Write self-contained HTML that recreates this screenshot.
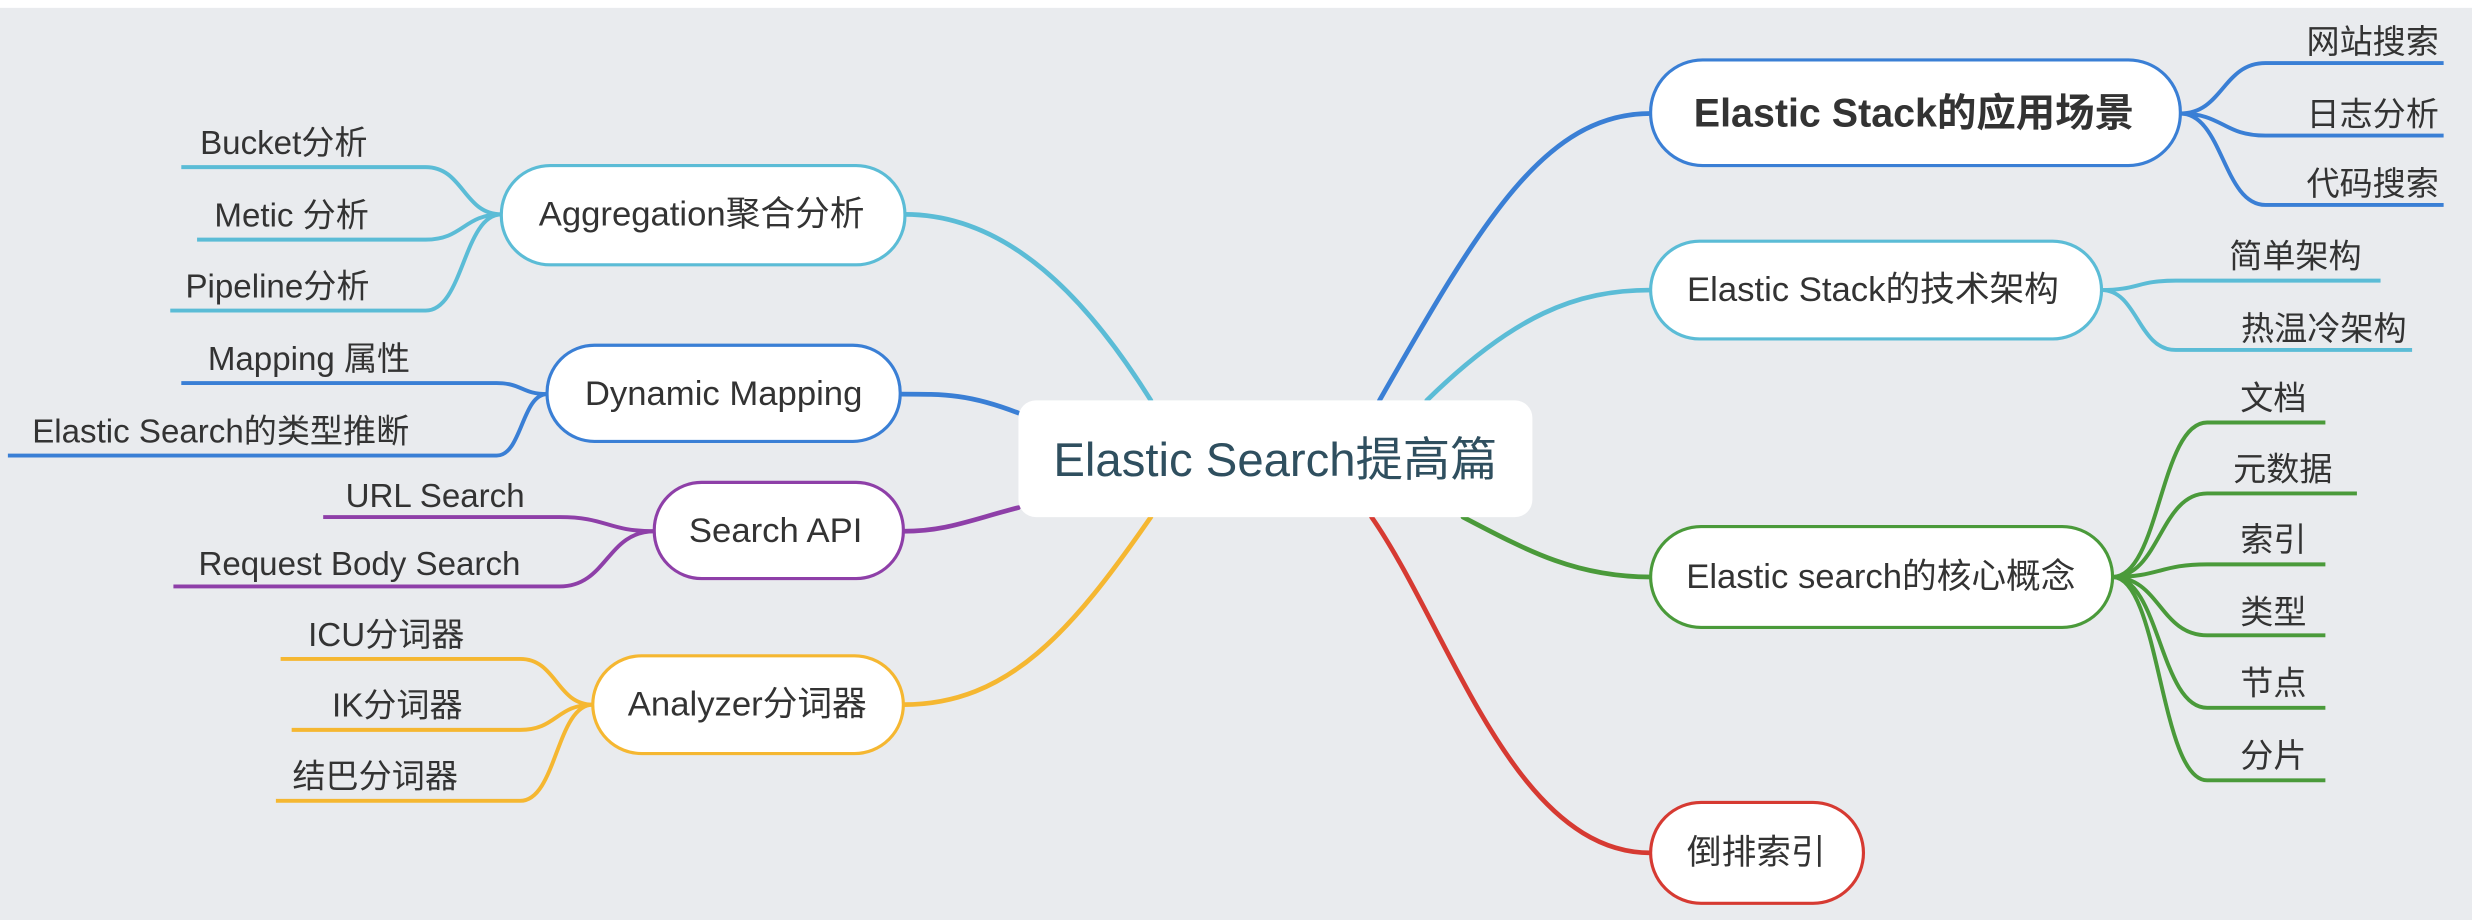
<!DOCTYPE html>
<html><head><meta charset="utf-8"><style>
html,body{margin:0;padding:0;background:#fff;}
svg{display:block;}
text{font-family:"Liberation Sans","Noto Sans CJK SC",sans-serif;fill:#333;dominant-baseline:central;}
</style></head><body>
<svg width="2472" height="920" viewBox="0 0 1568 583.6" preserveAspectRatio="none" xmlns="http://www.w3.org/2000/svg">
<rect x="0" y="5" width="1568" height="578.6" fill="#e9ebee"/>
<g fill="none" stroke-width="3" stroke-linecap="round">
<path d="M875 254 C940 140,980 72,1047 72" stroke="#3a7fd5"/>
<path d="M905 254 C960 200,1000 184,1047 184" stroke="#5bbcd6"/>
<path d="M928 328 C970 350,1000 366,1047 366" stroke="#4a9a3a"/>
<path d="M870 328 C920 400,960 541,1047 541" stroke="#d63a32"/>
<path d="M730 254 C690 190,640 136,574 136" stroke="#5bbcd6"/>
<path d="M646 262 C615 250,600 250,571 250" stroke="#3a7fd5"/>
<path d="M646 322 C615 330,600 337,573 337" stroke="#8e3fa8"/>
<path d="M730 328 C680 400,640 447,573 447" stroke="#f5b731"/>
</g>
<g fill="none" stroke-width="2.5">
<g stroke="#3a7fd5">
<path d="M1383 72 C1410 72,1410 40,1437 40 L1550 40"/>
<path d="M1383 72 C1410 72,1410 86,1437 86 L1550 86"/>
<path d="M1383 72 C1410 72,1410 130,1437 130 L1550 130"/>
<path d="M347 250 C331 250,331 243,315 243 L115 243"/>
<path d="M347 250 C331 250,331 289,315 289 L5 289"/>
</g>
<g stroke="#5bbcd6">
<path d="M1333 184 C1356 184,1356 178,1380 178 L1510 178"/>
<path d="M1333 184 C1356 184,1356 222,1380 222 L1530 222"/>
<path d="M318 136 C294 136,294 106,270 106 L115 106"/>
<path d="M318 136 C294 136,294 152,270 152 L125 152"/>
<path d="M318 136 C294 136,294 197,270 197 L108 197"/>
</g>
<g stroke="#4a9a3a">
<path d="M1340 366 C1370 366,1370 268,1400 268 L1475 268"/>
<path d="M1340 366 C1370 366,1370 313,1400 313 L1495 313"/>
<path d="M1340 366 C1370 366,1370 358,1400 358 L1475 358"/>
<path d="M1340 366 C1370 366,1370 403,1400 403 L1475 403"/>
<path d="M1340 366 C1370 366,1370 449,1400 449 L1475 449"/>
<path d="M1340 366 C1370 366,1370 495,1400 495 L1475 495"/>
</g>
<g stroke="#8e3fa8">
<path d="M415 337 C385 337,385 328,355 328 L205 328"/>
<path d="M415 337 C385 337,385 372,355 372 L110 372"/>
</g>
<g stroke="#f5b731">
<path d="M376 447 C353 447,353 418,330 418 L178 418"/>
<path d="M376 447 C353 447,353 463,330 463 L185 463"/>
<path d="M376 447 C353 447,353 508,330 508 L175 508"/>
</g>
</g>
<rect x="646" y="254" width="326" height="74" rx="11" fill="#fff"/>
<text x="809" y="292" font-size="30" text-anchor="middle" style="fill:#2f4f5f">Elastic Search提高篇</text>
<g fill="#fff" stroke-width="2">
<rect x="1047" y="38" width="336" height="67" rx="33" stroke="#3a7fd5"/>
<rect x="1047" y="153" width="286" height="62" rx="31" stroke="#5bbcd6"/>
<rect x="1047" y="334" width="293" height="64" rx="32" stroke="#4a9a3a"/>
<rect x="1047" y="509" width="135" height="64" rx="32" stroke="#d63a32"/>
<rect x="318" y="105" width="256" height="63" rx="31" stroke="#5bbcd6"/>
<rect x="347" y="219" width="224" height="61" rx="30" stroke="#3a7fd5"/>
<rect x="415" y="306" width="158" height="61" rx="30" stroke="#8e3fa8"/>
<rect x="376" y="416" width="197" height="62" rx="31" stroke="#f5b731"/>
</g>
<g text-anchor="middle" font-size="22">
<text x="1214" y="72" font-size="25" font-weight="bold">Elastic Stack的应用场景</text>
<text x="1188" y="184">Elastic Stack的技术架构</text>
<text x="1193" y="366">Elastic search的核心概念</text>
<text x="1114" y="541">倒排索引</text>
<text x="445" y="136">Aggregation聚合分析</text>
<text x="459" y="250">Dynamic Mapping</text>
<text x="492" y="337">Search API</text>
<text x="474" y="447">Analyzer分词器</text>
</g>
<g text-anchor="middle" font-size="21">
<text x="1505" y="27">网站搜索</text>
<text x="1505" y="73">日志分析</text>
<text x="1505" y="117">代码搜索</text>
<text x="1456" y="163">简单架构</text>
<text x="1474" y="209">热温冷架构</text>
<text x="1442" y="253">文档</text>
<text x="1448" y="298">元数据</text>
<text x="1442" y="343">索引</text>
<text x="1442" y="389">类型</text>
<text x="1442" y="434">节点</text>
<text x="1442" y="480">分片</text>
<text x="180" y="91">Bucket分析</text>
<text x="185" y="137">Metic 分析</text>
<text x="176" y="182">Pipeline分析</text>
<text x="196" y="228">Mapping 属性</text>
<text x="140" y="274">Elastic Search的类型推断</text>
<text x="276" y="315">URL Search</text>
<text x="228" y="358">Request Body Search</text>
<text x="245" y="403">ICU分词器</text>
<text x="252" y="448">IK分词器</text>
<text x="238" y="493">结巴分词器</text>
</g>
</svg>
</body></html>
